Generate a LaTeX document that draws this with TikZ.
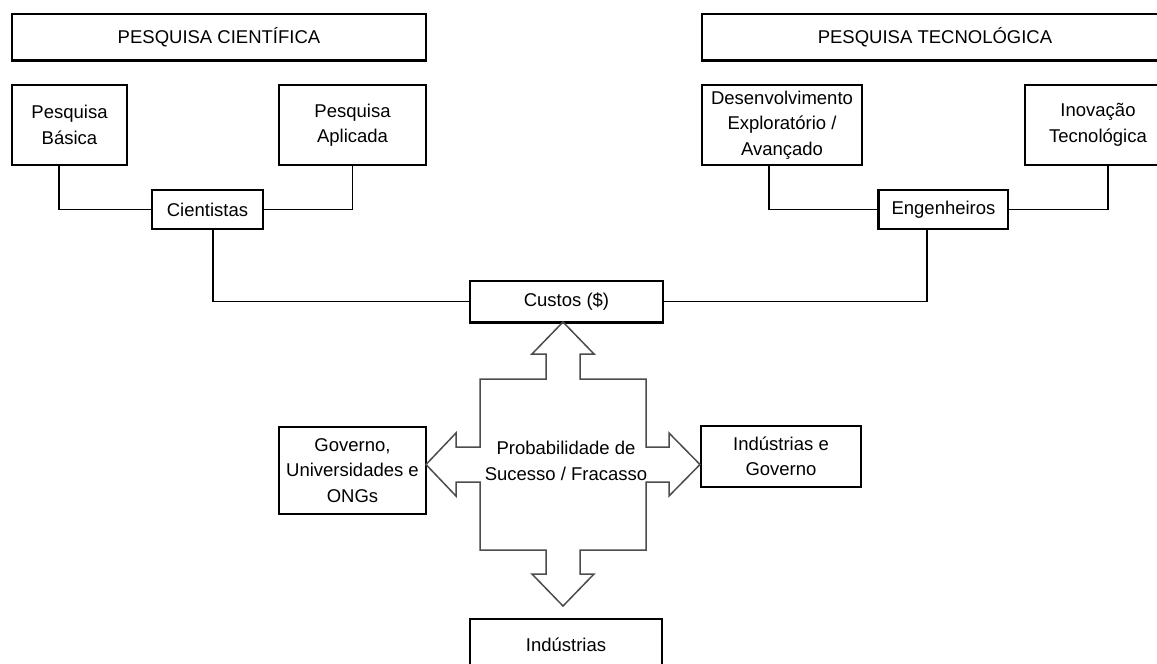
\documentclass[tikz,border=0pt]{standalone}
\usepackage{fontspec}
\setmainfont{Liberation Sans}
\begin{document}
\begin{tikzpicture}[x=1pt,y=-1pt,
  box/.style={draw=black,line width=1.3pt,inner sep=0pt,align=center,
    font=\fontsize{18.5}{25.5}\selectfont,text=black},
  wire/.style={draw=black,line width=1.3pt},
  heavyedge/.style={draw=black,line width=2.6pt},
  crossarrow/.style={draw=black!70,line width=1.5pt,line join=miter}]
\useasboundingbox (0,0) rectangle (1157,664);
\clip (0,0) rectangle (1157,664);
\fill[white] (0,0) rectangle (1157,664);

% top headers
\node[box,minimum width=414pt,minimum height=46pt] (pc) at (219,37) {PESQUISA CIENTÍFICA};
\node[box,minimum width=466pt,minimum height=46pt] (pt) at (935,37) {PESQUISA TECNOLÓGICA};

% second row
\node[box,minimum width=115pt,minimum height=80pt] (pb) at (69.5,125) {Pesquisa\\Básica};
\node[box,minimum width=147pt,minimum height=80pt] (pa) at (352.5,125) {Pesquisa\\Aplicada};
\node[box,minimum width=160pt,minimum height=80pt] (de) at (782,125) {Desenvolvimento\\Exploratório /\\Avançado};
\node[box,minimum width=146pt,minimum height=80pt] (in) at (1098,125) {Inovação\\Tecnológica};

% third row
\node[box,minimum width=111pt,minimum height=39pt] (ci) at (207.5,209.5) {Cientistas};
\node[box,minimum width=129pt,minimum height=39pt] (en) at (943.5,209.5) {Engenheiros};

% costs
\node[box,minimum width=193pt,minimum height=41pt] (cu) at (566.5,301.5) {Custos (\$)};

% lower boxes
\node[box,minimum width=147pt,minimum height=87pt] (go) at (352.5,470.5) {Governo,\\Universidades e\\ONGs};
\node[box,minimum width=160pt,minimum height=61pt] (ig) at (781,456.5) {Indústrias e\\Governo};
\node[box,minimum width=192pt,minimum height=52pt] (id) at (566,645) {Indústrias};

% heavier edges seen on some boxes
\draw[heavyedge] (pc.south west) -- (pc.south east);
\draw[heavyedge] (pt.south west) -- (pt.south east);
\draw[heavyedge] (cu.south west) -- (cu.south east);
\draw[heavyedge] (en.north west) -- (en.south west);

% connectors
\draw[wire] ([xshift=-10.5pt]pb.south) |- (ci.west);
\draw[wire] (pa.south) |- (ci.east);
\draw[wire] ([xshift=5.5pt]ci.south) |- (cu.west);
\draw[wire] ([xshift=-13pt]de.south) |- (en.west);
\draw[wire] ([xshift=10pt]in.south) |- (en.east);
\draw[wire] ([xshift=-16.5pt]en.south) |- (cu.east);

% four-way arrow
\draw[crossarrow]
  (563,322) -- (594,354) -- (580,354) -- (580,379) -- (646,379) -- (646,447)
  -- (669,447) -- (669,433) -- (700,464.5) -- (669,496) -- (669,482) -- (646,482)
  -- (646,550) -- (580,550) -- (580,574) -- (594,574) -- (563,606) -- (532,574)
  -- (546,574) -- (546,550) -- (480,550) -- (480,482) -- (456,482) -- (456,496)
  -- (426,464.5) -- (456,433) -- (456,447) -- (480,447) -- (480,379) -- (546,379)
  -- (546,354) -- (532,354) -- cycle;
\node[align=center,inner sep=0pt,font=\fontsize{18.5}{26}\selectfont,text=black] (pr) at (566,461) {Probabilidade de\\Sucesso / Fracasso};
\end{tikzpicture}
\end{document}
